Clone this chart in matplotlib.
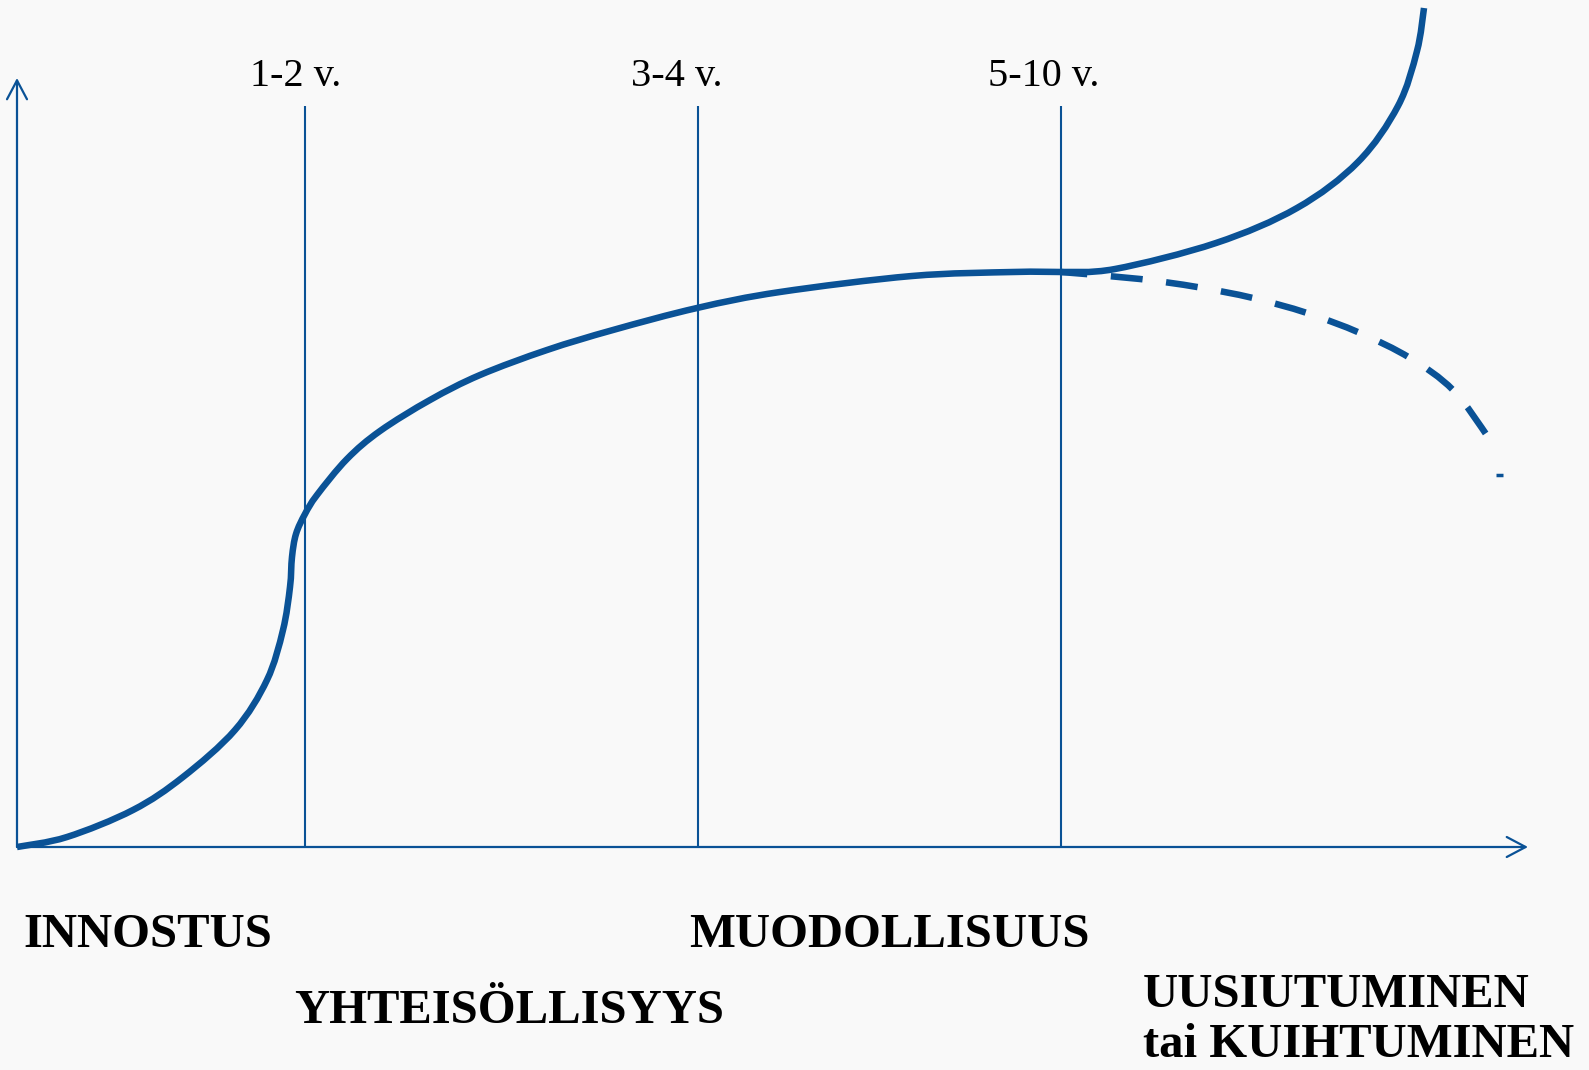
import matplotlib
matplotlib.use("Agg")
import matplotlib.pyplot as plt
from matplotlib.path import Path
from matplotlib.patches import PathPatch

# ---- data (origin = axis intersection, units ~ pixels) ----
main_x = [0, 50, 116, 166, 218, 250, 266, 273, 275, 279, 288, 300, 330, 363, 413, 463,
          530, 596, 680, 763, 895, 996, 1044]
main_y = [0, 10, 37, 70, 117, 167, 217, 260, 290, 313, 333, 352, 388, 416, 447, 472,
          497, 517, 539, 555, 571, 575, 575]

up_x = [1044, 1098, 1199, 1280, 1341, 1381, 1400, 1407]
up_y = [575, 578, 604, 639, 685, 741, 796, 839]

down_x = [1044, 1123, 1180, 1236, 1290, 1343, 1393, 1436, 1471, 1478]
down_y = [575, 568, 560, 549, 534, 514, 489, 457, 410, 397]

stray_x = [1479, 1486]
stray_y = [372, 372]

period_x = [288, 681, 1044]
period_labels = ["1-2 v.", "3-4 v.", "5-10 v."]
period_label_x = [279, 660, 1027]
period_top = 741

phase_labels = ["INNOSTUS", "YHTEISÖLLISYYS", "MUODOLLISUUS",
                "UUSIUTUMINEN", "tai KUIHTUMINEN"]
phase_x = [6, 277, 672, 1126, 1126]
phase_y = [-100, -176, -100, -160, -210]

x_axis_end = 1511
y_axis_end = 769

BLUE = "#0A5296"
BG = "#F9F9F9"

plt.rcParams['lines.scale_dashes'] = False


def smooth_path(xs, ys):
    """Bezier path passing through the given points (Catmull-Rom tangents)."""
    pts = list(zip(xs, ys))
    n = len(pts)
    verts = [pts[0]]
    codes = [Path.MOVETO]
    for i in range(n - 1):
        p0 = pts[i - 1] if i > 0 else pts[i]
        p1 = pts[i]
        p2 = pts[i + 1]
        p3 = pts[i + 2] if i + 2 < n else pts[i + 1]
        c1 = (p1[0] + (p2[0] - p0[0]) / 6.0, p1[1] + (p2[1] - p0[1]) / 6.0)
        c2 = (p2[0] - (p3[0] - p1[0]) / 6.0, p2[1] - (p3[1] - p1[1]) / 6.0)
        verts += [c1, c2, p2]
        codes += [Path.CURVE4] * 3
    return Path(verts, codes)


fig = plt.figure(figsize=(15.89, 10.70), dpi=100, facecolor=BG)
ax = fig.add_axes([0, 0, 1, 1])
ax.set_facecolor(BG)
ax.set_xlim(-17, 1572)
ax.set_ylim(-223, 847)
ax.axis("off")

# axes arrows
arrow_style = "->,head_length=0.68,head_width=0.36"
ax.annotate("", xy=(x_axis_end, 0), xytext=(0, 0),
            arrowprops=dict(arrowstyle=arrow_style, color=BLUE, lw=1.6,
                            mutation_scale=20, shrinkA=0, shrinkB=0))
ax.annotate("", xy=(0, y_axis_end), xytext=(0, 0),
            arrowprops=dict(arrowstyle=arrow_style, color=BLUE, lw=1.6,
                            mutation_scale=20, shrinkA=0, shrinkB=0))

# period lines
ax.vlines(period_x, 0, period_top, color=BLUE, lw=1.5)

# curves
ax.add_patch(PathPatch(smooth_path(main_x, main_y), fill=False, edgecolor=BLUE,
                       lw=4.7, capstyle="butt", joinstyle="round"))
ax.add_patch(PathPatch(smooth_path(up_x, up_y), fill=False, edgecolor=BLUE,
                       lw=4.7, capstyle="butt", joinstyle="round"))
ax.add_patch(PathPatch(smooth_path(down_x, down_y), fill=False, edgecolor=BLUE,
                       lw=4.7, linestyle=(4, (23, 17)), capstyle="butt"))
ax.plot(stray_x, stray_y, color=BLUE, lw=2.5, solid_capstyle="butt")

# period labels
for lx, lab in zip(period_label_x, period_labels):
    ax.text(lx, period_top + 20, lab, ha="center", va="baseline",
            fontsize=29, family="Liberation Serif", color="black")

# phase labels
for px, py, lab in zip(phase_x, phase_y, phase_labels):
    ax.text(px, py, lab, ha="left", va="baseline", fontsize=35,
            family="Liberation Serif", fontweight="bold", color="black")

fig.savefig("out.png", dpi=100, facecolor=BG)
